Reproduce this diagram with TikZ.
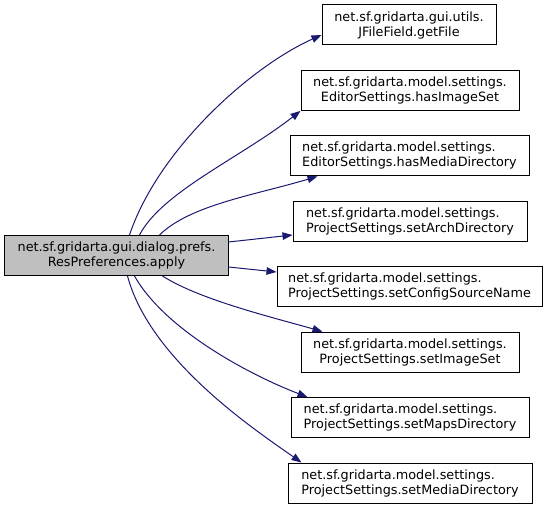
\documentclass[tikz,border=0pt]{standalone}
\usepackage{fontspec}
\setmainfont{DejaVu Sans}
\usetikzlibrary{arrows.meta}
\definecolor{edgeblue}{HTML}{191970}
\definecolor{nodegray}{HTML}{BFBFBF}
\begin{document}
\begin{tikzpicture}[x=1bp,y=-1bp, font=\fontsize{12.8bp}{15bp}\selectfont,
  box/.style={draw=black, line width=1bp, inner sep=0pt, minimum height=40bp, fill=white},
  edge/.style={draw=edgeblue, line width=1bp, -{Triangle[length=10bp,width=7.5bp]}}]
\useasboundingbox (0,0) rectangle (549,509);
\node[box, fill=nodegray, minimum width=223bp, align=center] (L) at (116.5,255.5) {net.sf.gridarta.gui.dialog.prefs.\\ResPreferences.apply};
\node[box, minimum width=174bp, align=center] (n1) at (409,25) {net.sf.gridarta.gui.utils.\\JFileField.getFile};
\node[box, minimum width=218bp, align=center] (n2) at (410,90.4) {net.sf.gridarta.model.settings.\\EditorSettings.hasImageSet};
\node[box, minimum width=239bp, align=left] (n3) at (409.5,155.9) {net.sf.gridarta.model.settings.\\EditorSettings.hasMediaDirectory};
\node[box, minimum width=234bp, align=left] (n4) at (410,221.3) {net.sf.gridarta.model.settings.\\ProjectSettings.setArchDirectory};
\node[box, minimum width=265bp, align=left] (n5) at (409.5,286.7) {net.sf.gridarta.model.settings.\\ProjectSettings.setConfigSourceName};
\node[box, minimum width=218bp, align=center] (n6) at (410,352.1) {net.sf.gridarta.model.settings.\\ProjectSettings.setImageSet};
\node[box, minimum width=238bp, align=left] (n7) at (410,417.6) {net.sf.gridarta.model.settings.\\ProjectSettings.setMapsDirectory};
\node[box, minimum width=244bp, align=left] (n8) at (410,483) {net.sf.gridarta.model.settings.\\ProjectSettings.setMediaDirectory};
\draw[edge] ([xshift=125bp]L.north west) .. controls (158,150) and (250,67) .. ([yshift=-10bp]n1.west);
\draw[edge] ([xshift=135bp]L.north west) .. controls (162,192) and (240,158) .. (n2.south west);
\draw[edge] ([xshift=155bp]L.north west) .. controls (190,205) and (255,195) .. ([xshift=28bp]n3.south west);
\draw[edge] ([yshift=13.5bp]L.east) -- ([yshift=-13.7bp]n4.west);
\draw[edge] ([yshift=-11.5bp]L.east) -- ([yshift=14.7bp]n5.west);
\draw[edge] ([xshift=158bp]L.south west) .. controls (200,300) and (275,318) .. ([xshift=22bp]n6.north west);
\draw[edge] ([xshift=130bp]L.south west) .. controls (165,330) and (250,375) .. ([xshift=17bp]n7.north west);
\draw[edge] ([xshift=123bp]L.south west) .. controls (150,360) and (255,430) .. ([xshift=14bp]n8.north west);
\end{tikzpicture}
\end{document}
